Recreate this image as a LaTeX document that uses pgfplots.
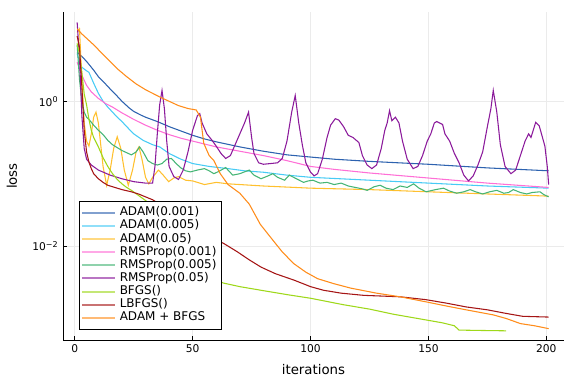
\documentclass[border=0pt]{standalone}
\usepackage{fontspec}
\setmainfont{DejaVu Sans}
\usepackage{pgfplots}
\pgfplotsset{compat=1.18}
\definecolor{cA}{HTML}{2D62AF}
\definecolor{cB}{HTML}{47CBF5}
\definecolor{cC}{HTML}{FFC02E}
\definecolor{cD}{HTML}{FF6FD6}
\definecolor{cE}{HTML}{45B575}
\definecolor{cF}{HTML}{8B1A9B}
\definecolor{cG}{HTML}{9ED81A}
\definecolor{cH}{HTML}{A51515}
\definecolor{cI}{HTML}{FF8C1A}
\begin{document}
\begin{tikzpicture}
\path[use as bounding box] (0,0) rectangle (432pt,288pt);
\begin{axis}[
  at={(47.25pt,33pt)}, anchor=south west,
  scale only axis, width=375.75pt, height=246pt,
  ymode=log, xmin=-5, xmax=207.5, ymin=5.05e-4, ymax=17.1,
  axis x line*=bottom, axis y line*=left,
  xtick={0,50,100,150,200},
  ytick={0.01,1}, yticklabels={10\textsuperscript{−2},10\textsuperscript{0}},
  yminorticks=false,
  tick align=inside, major tick length=3pt,
  grid=major, major grid style={black!8, line width=0.5pt},
  tick style={black, line width=0.5pt},
  axis line style={black, line width=0.6pt},
  tick label style={font=\fontsize{8}{10}\selectfont},
  /pgf/number format/assume math mode=true,
  xlabel={iterations}, ylabel={loss},
  label style={font=\fontsize{12}{14}\selectfont},
  every axis x label/.style={at={(axis description cs:0.5,-0.0915)}, anchor=center},
  every axis y label/.style={at={(axis description cs:-0.1018,0.5)}, rotate=90, anchor=center},
  legend style={at={(axis description cs:0.032,0.0305)}, anchor=south west, draw=black, line width=0.6pt, fill=white,
    font=\fontsize{9}{9.84}\selectfont, inner xsep=1.15pt, inner ysep=3.9pt, row sep=0pt,
    nodes={inner ysep=0.67pt, inner xsep=2.6pt, text height=6.5pt, text depth=2pt}},
  legend cell align=left,
  legend image code/.code={\draw[#1, line width=1.5pt, opacity=0.6] (0pt,0pt) -- (25pt,0pt);},
  every axis plot/.append style={line width=0.8pt},
]
% ADAM(0.001)
\addplot[cA] coordinates {(1,4.786)(3,4.169)(5,3.548)(8,2.692)(10,2.188)(13,1.738)(15,1.479)(18,1.175)(20,1.0)(23,0.8128)(25,0.7244)(28,0.6457)(30,0.6026)(35,0.5248)(40,0.4467)(45,0.3890)(50,0.3388)(55,0.3020)(60,0.2754)(70,0.2344)(80,0.2042)(90,0.1820)(100,0.1698)(110,0.1585)(125,0.1479)(150,0.1349)(175,0.1202)(201,0.1096)};
\addlegendentry{ADAM(0.001)}
% ADAM(0.005)
\addplot[cB] coordinates {(1,4.571)(2,3.548)(3,2.951)(5,2.630)(6,2.512)(8,1.778)(10,1.288)(12,1.0)(14,0.8318)(16,0.7079)(18,0.6026)(20,0.5248)(22,0.4467)(25,0.3548)(29,0.2884)(33,0.2512)(36,0.2344)(40,0.1905)(45,0.1585)(50,0.1380)(57,0.1259)(65,0.1175)(72,0.1096)(80,0.1047)(90,0.09550)(100,0.08913)(125,0.08128)(150,0.07413)(175,0.06761)(201,0.06310)};
\addlegendentry{ADAM(0.005)}
% ADAM(0.05)
\addplot[cC] coordinates {(1,8.913)(2,10.0)(3,1.995)(4,0.5012)(5,0.2818)(6,0.2399)(7,0.3548)(8,0.6026)(9,0.7079)(10,0.5012)(11,0.2512)(12,0.1259)(13.5,0.06918)(15,0.1122)(16.5,0.2239)(18,0.3236)(19.5,0.2239)(21,0.1122)(22.7,0.06918)(24.5,0.1122)(26,0.1995)(27.2,0.2344)(28.5,0.1585)(30,0.08913)(31.4,0.07244)(33,0.08913)(35.5,0.1122)(37.5,0.09550)(39.8,0.07762)(42,0.08710)(44,0.09120)(47,0.08128)(50,0.07943)(55,0.07079)(60,0.07586)(65,0.07244)(70,0.07079)(80,0.06761)(100,0.06310)(125,0.06026)(150,0.05623)(175,0.05248)(201,0.04898)};
\addlegendentry{ADAM(0.05)}
% RMSProp(0.001)
\addplot[cD] coordinates {(1,3.467)(2,2.818)(3,2.291)(5,1.660)(7,1.349)(10,1.096)(13,0.9333)(16,0.8318)(20,0.6918)(25,0.5623)(30,0.4677)(35,0.3981)(40,0.3467)(45,0.3090)(50,0.2818)(55,0.2570)(60,0.2344)(70,0.2042)(80,0.1778)(90,0.1514)(100,0.1259)(110,0.1148)(125,0.1023)(150,0.08710)(175,0.07413)(201,0.06457)};
\addlegendentry{RMSProp(0.001)}
% RMSProp(0.005)
\addplot[cE] coordinates {(1,6.026)(2,1.995)(3,1.0)(4,0.7079)(5,0.6026)(6,0.5623)(8,0.4677)(10,0.3981)(12,0.3467)(14,0.2884)(16,0.2512)(18,0.2291)(20,0.2089)(22,0.1950)(24,0.1820)(26,0.1995)(27.5,0.2344)(29,0.1995)(31,0.1514)(33,0.1380)(35,0.1318)(37,0.1380)(39,0.1585)(41,0.1622)(43,0.1380)(45,0.1202)(47,0.1096)(49,0.1059)(52,0.1122)(55,0.1175)(57,0.1096)(59,0.1)(61,0.1072)(64,0.1216)(67,0.09550)(70,0.1)(74,0.1122)(76,0.09550)(79,0.08511)(82,0.09333)(84,0.1)(86,0.08913)(89,0.08128)(91,0.09550)(94,0.08511)(97,0.07586)(99,0.07943)(101,0.08128)(104,0.07413)(107,0.07586)(110,0.07079)(113,0.07413)(116,0.06761)(119,0.06457)(122,0.06166)(124,0.05888)(127,0.06607)(129.5,0.06918)(132,0.06310)(135,0.06026)(138,0.06761)(141,0.06457)(143.7,0.07244)(146,0.06310)(149,0.05623)(153,0.06026)(156.4,0.06310)(159,0.05754)(162,0.05370)(165,0.05623)(167.7,0.06026)(170,0.05623)(173,0.05248)(176,0.05623)(179,0.05888)(182,0.05370)(184,0.05495)(186,0.06026)(189,0.05495)(191.7,0.05248)(194,0.05495)(197.3,0.05623)(199,0.05129)(201,0.04786)};
\addlegendentry{RMSProp(0.005)}
% RMSProp(0.05)
\addplot[cF] coordinates {(1,12.30)(2,3.981)(3,0.6310)(4,0.2239)(5,0.1585)(7,0.1318)(10,0.1122)(15,0.09550)(20,0.08511)(25,0.07762)(30,0.07413)(33,0.07413)(34,0.1259)(35,0.3548)(36,0.8913)(37,1.413)(38,0.7943)(39,0.2818)(40,0.1259)(42,0.09120)(44,0.08318)(46,0.1122)(48,0.1995)(50,0.3981)(52,0.6310)(53,0.6761)(54,0.5012)(56,0.3548)(58,0.2951)(60,0.2399)(62,0.1905)(64,0.1622)(66,0.1778)(68,0.2512)(70,0.3548)(72,0.5012)(73.7,0.7079)(75,0.3162)(76,0.1905)(78,0.1413)(80,0.1349)(83,0.1380)(86,0.1413)(88,0.1622)(90,0.2818)(92,0.7079)(93.5,1.202)(95,0.5012)(96.5,0.2512)(98,0.1413)(100,0.1047)(101.5,0.09333)(103,0.1)(105,0.1585)(107,0.3162)(108.5,0.4677)(110.5,0.5754)(112,0.5495)(114,0.4467)(116,0.3388)(118,0.3162)(120.5,0.2692)(122,0.1778)(124,0.1318)(126,0.1175)(128,0.1318)(130,0.2239)(131.5,0.3981)(132.5,0.5012)(133.5,0.7413)(134.5,0.5370)(136,0.6026)(137.5,0.5012)(139,0.2818)(141,0.1585)(143.5,0.1175)(145.5,0.1259)(147.5,0.1778)(149.5,0.2818)(151,0.3548)(152.5,0.5012)(153.5,0.5248)(156,0.4786)(157,0.3548)(159,0.2818)(161,0.1905)(163,0.1413)(165,0.09550)(167,0.07943)(169,0.09333)(171,0.1318)(173,0.1995)(175,0.4467)(176.5,0.7943)(177.5,1.413)(179,0.7079)(180.5,0.2512)(182.5,0.1259)(185,0.1)(187,0.1122)(189,0.1778)(191,0.2818)(192.5,0.3548)(193.5,0.3162)(195.5,0.5129)(197,0.4571)(199.4,0.2399)(200.4,0.1259)(201,0.07079)};
\addlegendentry{RMSProp(0.05)}
% BFGS()
\addplot[cG] coordinates {(1,6.310)(2,4.467)(3,2.512)(4,1.259)(5,0.8913)(6,0.5623)(7,0.3981)(8,0.3162)(10,0.2344)(12,0.1660)(14,0.1259)(16,0.1)(18,0.08318)(20,0.07244)(22,0.06457)(24,0.05888)(27,0.05012)(30,0.04266)(33,0.03548)(36,0.02512)(40,0.01585)(45,0.008913)(50,0.005623)(55,0.004169)(60,0.003388)(63,0.003090)(70,0.002754)(79,0.002455)(90,0.002138)(100,0.001905)(114,0.001549)(125,0.001349)(135,0.001148)(149,0.0009550)(156,0.0008710)(161,0.0007943)(163,0.0006918)(172,0.0006839)(183,0.0006761)};
\addlegendentry{BFGS()}
% LBFGS()
\addplot[cH] coordinates {(1,7.943)(2,5.623)(3,1.585)(4,0.3981)(5,0.1995)(6,0.1445)(7,0.1175)(8,0.1)(10,0.08511)(12,0.07586)(14,0.06918)(17,0.06457)(20,0.06026)(24,0.05623)(27,0.05248)(30,0.04786)(33,0.04365)(36,0.03802)(40,0.03020)(45,0.02239)(50,0.01778)(55,0.01445)(60,0.01202)(63,0.01096)(66,0.009550)(69,0.008318)(74,0.006457)(79,0.005129)(85,0.004169)(93,0.003388)(100,0.002754)(105.5,0.002455)(113,0.002239)(122.5,0.002089)(138,0.001995)(149,0.001820)(158,0.001622)(166,0.001445)(175,0.001318)(183,0.001175)(190,0.001072)(201,0.001047)};
\addlegendentry{LBFGS()}
% ADAM + BFGS
\addplot[cI] coordinates {(1,10.0)(3,8.511)(5,7.413)(8,6.026)(11,4.786)(15,3.548)(18,2.818)(22,2.188)(26,1.738)(30,1.445)(33,1.288)(36,1.148)(40,1.0)(44,0.8710)(48,0.7943)(51.5,0.7586)(53.3,0.6026)(54,0.3981)(54.7,0.2630)(57,0.1778)(59,0.1514)(61.7,0.1)(65,0.07079)(70,0.05370)(74,0.03802)(78.7,0.01995)(84.3,0.01175)(88,0.008318)(92.8,0.005754)(98,0.004365)(103,0.003548)(110,0.003020)(117,0.002630)(128,0.002239)(138,0.001995)(149,0.001698)(158,0.001479)(166,0.001318)(177.5,0.001122)(183,0.001)(189,0.0008511)(195,0.0007943)(201,0.0007244)};
\addlegendentry{ADAM + BFGS}
\end{axis}
\end{tikzpicture}
\end{document}
